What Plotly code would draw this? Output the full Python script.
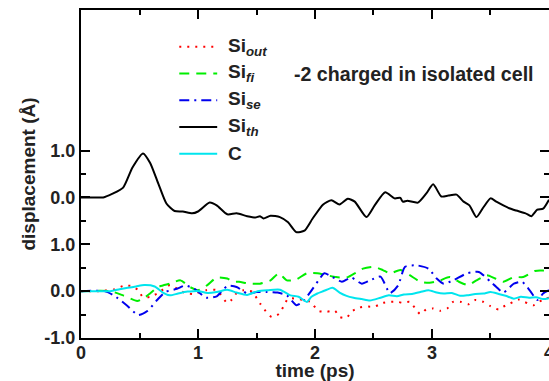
import plotly.graph_objects as go

# ---- data (displacement in Angstrom vs time in ps) ----
t_th = [0.0, 0.10, 0.19, 0.27, 0.36, 0.44, 0.53, 0.59, 0.66, 0.73, 0.80, 0.87, 0.95, 1.00, 1.10, 1.16,
        1.25, 1.33, 1.42, 1.49, 1.53, 1.56, 1.62, 1.70, 1.77, 1.84, 1.91, 1.98, 2.07, 2.14, 2.21, 2.28,
        2.34, 2.44, 2.51, 2.60, 2.68, 2.73, 2.75, 2.79, 2.88, 2.95, 3.01, 3.08, 3.14, 3.21, 3.27, 3.32,
        3.38, 3.44, 3.50, 3.55, 3.61, 3.66, 3.72, 3.80, 3.85, 3.90, 3.95, 4.00]
si_th = [0.0, 0.0, 0.0, 0.08, 0.21, 0.64, 0.94, 0.74, 0.30, -0.13, -0.29, -0.30, -0.34, -0.30, -0.11, -0.17,
         -0.36, -0.34, -0.40, -0.43, -0.40, -0.45, -0.39, -0.42, -0.53, -0.74, -0.71, -0.45, -0.15, -0.06, -0.15, -0.03,
         -0.09, -0.42, -0.17, 0.11, -0.02, -0.01, -0.09, -0.07, -0.11, 0.08, 0.28, 0.02, 0.04, 0.06, -0.09, -0.17,
         -0.42, -0.21, -0.02, -0.09, -0.17, -0.23, -0.28, -0.34, -0.40, -0.26, -0.24, -0.05]

t_out = [0.0, 0.15, 0.29, 0.36, 0.43, 0.49, 0.53, 0.59, 0.66, 0.76, 0.83, 0.89, 0.96, 1.07, 1.16, 1.25,
         1.29, 1.33, 1.39, 1.46, 1.53, 1.57, 1.63, 1.69, 1.73, 1.77, 1.84, 1.90, 1.96, 2.03, 2.10, 2.17,
         2.21, 2.27, 2.31, 2.38, 2.44, 2.51, 2.58, 2.64, 2.71, 2.75, 2.81, 2.90, 2.95, 3.01, 3.07, 3.13,
         3.18, 3.25, 3.31, 3.37, 3.44, 3.50, 3.57, 3.61, 3.67, 3.74, 3.79, 3.87, 3.94, 4.00]
si_out = [0.0, 0.0, 0.04, 0.11, 0.11, 0.02, -0.13, -0.12, -0.04, 0.13, 0.04, -0.04, -0.06, 0.02, 0.02, -0.25,
          -0.18, -0.04, 0.02, -0.01, -0.26, -0.40, -0.55, -0.49, -0.33, -0.16, -0.16, -0.19, -0.23, -0.42, -0.44, -0.42,
          -0.55, -0.57, -0.44, -0.35, -0.33, -0.33, -0.25, -0.23, -0.23, -0.25, -0.23, -0.49, -0.39, -0.37, -0.42, -0.37,
          -0.23, -0.23, -0.28, -0.19, -0.23, -0.32, -0.39, -0.33, -0.26, -0.18, -0.23, -0.30, -0.19, -0.14]

t_fi = [0.0, 0.25, 0.36, 0.48, 0.53, 0.59, 0.66, 0.76, 0.85, 0.93, 1.00, 1.08, 1.16, 1.25, 1.30, 1.35,
        1.44, 1.53, 1.62, 1.69, 1.76, 1.84, 1.93, 2.02, 2.10, 2.18, 2.27, 2.36, 2.41, 2.50, 2.58, 2.64,
        2.73, 2.81, 2.90, 2.98, 3.07, 3.15, 3.23, 3.31, 3.38, 3.47, 3.54, 3.61, 3.70, 3.78, 3.88, 3.95, 4.00]
si_fi = [0.0, 0.0, -0.09, -0.21, -0.16, -0.05, 0.09, 0.16, 0.23, 0.09, 0.02, 0.13, 0.29, 0.27, 0.20, 0.20,
         0.16, 0.16, 0.23, 0.38, 0.23, 0.25, 0.38, 0.38, 0.34, 0.30, 0.29, 0.41, 0.48, 0.52, 0.45, 0.38,
         0.45, 0.34, 0.20, 0.18, 0.23, 0.30, 0.20, 0.13, 0.23, 0.34, 0.27, 0.20, 0.30, 0.30, 0.43, 0.44, 0.41]

t_se = [0.0, 0.20, 0.28, 0.39, 0.49, 0.57, 0.65, 0.72, 0.82, 0.89, 0.97, 1.07, 1.16, 1.25, 1.33, 1.42,
        1.50, 1.59, 1.68, 1.76, 1.84, 1.89, 1.96, 2.03, 2.08, 2.15, 2.23, 2.31, 2.40, 2.47, 2.56, 2.64,
        2.71, 2.77, 2.87, 2.97, 3.04, 3.10, 3.18, 3.30, 3.40, 3.50, 3.55, 3.61, 3.70, 3.77, 3.84, 3.90,
        3.95, 4.00]
si_se = [0.0, 0.0, -0.09, -0.30, -0.51, -0.42, -0.19, -0.02, 0.05, 0.12, 0.05, -0.14, -0.11, 0.11, 0.09, -0.05,
         -0.02, -0.02, -0.03, -0.09, -0.30, -0.24, -0.02, 0.23, 0.38, 0.30, 0.20, 0.29, 0.16, 0.23, 0.31, -0.04,
         0.12, 0.52, 0.55, 0.48, 0.27, 0.16, 0.23, 0.38, 0.41, 0.20, 0.09, -0.03, 0.16, 0.20, 0.00, -0.19,
         -0.05, 0.02]

t_c = [0.0, 0.25, 0.33, 0.40, 0.47, 0.54, 0.63, 0.70, 0.76, 0.83, 0.91, 0.96, 1.01, 1.08, 1.16, 1.25,
       1.33, 1.42, 1.51, 1.60, 1.70, 1.79, 1.86, 1.93, 1.97, 2.02, 2.06, 2.10, 2.15, 2.21, 2.27, 2.33,
       2.40, 2.47, 2.56, 2.63, 2.70, 2.76, 2.83, 2.90, 2.97, 3.04, 3.10, 3.17, 3.24, 3.30, 3.37, 3.44,
       3.50, 3.57, 3.63, 3.70, 3.76, 3.83, 3.89, 3.95, 4.00]
c_val = [0.0, 0.0, 0.04, 0.07, 0.10, 0.13, 0.10, -0.03, -0.09, -0.05, -0.01, 0.0, 0.0, -0.04, -0.02, 0.03,
         -0.03, -0.08, 0.0, 0.02, 0.03, -0.09, -0.12, -0.23, -0.12, -0.05, -0.01, 0.03, 0.07, -0.03, -0.10, -0.14,
         -0.17, -0.20, -0.14, -0.09, -0.11, -0.07, -0.06, -0.02, 0.02, -0.03, -0.05, -0.04, -0.10, -0.09, -0.06, -0.05,
         -0.02, -0.06, -0.10, -0.16, -0.12, -0.14, -0.13, -0.17, -0.15]

th_offset = 2.0  # Si_th curve shifted up for clarity

x_major = [0, 1, 2, 3, 4]
x_labels = ["0", "1", "2", "3", "4"]
y_major = [-1, 0, 1, 2, 3]
y_labels = ["-1.0", "0.0", "1.0", "0.0", "1.0"]

names = ["Si<sub><i>out</i></sub>", "Si<sub><i>fi</i></sub>", "Si<sub><i>se</i></sub>",
         "Si<sub><i>th</i></sub>", "C"]
colors = ["#ff0000", "#00ee00", "#0000ee", "#000000", "#00e5ee"]
dashes = ["2px,6px", "10px,7px", "10px,5px,2px,5px", "solid", "solid"]

FONT = "Liberation Sans, Arial"

fig = go.Figure()
series = [(t_out, si_out), (t_fi, si_fi), (t_se, si_se),
          (t_th, [v + th_offset for v in si_th]), (t_c, c_val)]
for (tx, ty), col, ds in zip(series, colors, dashes):
    fig.add_trace(go.Scatter(x=tx, y=ty, mode="lines",
                             line=dict(color=col, width=2, dash=ds, shape="spline", smoothing=0.6),
                             showlegend=False, cliponaxis=True))

# legend drawn manually
leg_y0 = 0.888
leg_dy = 0.0815
for i, (nm, col, ds) in enumerate(zip(names, colors, dashes)):
    yy = leg_y0 - i * leg_dy
    fig.add_shape(type="line", xref="paper", yref="paper", x0=0.21, x1=0.291, y0=yy, y1=yy,
                  line=dict(color=col, width=2, dash=ds))
    fig.add_annotation(xref="paper", yref="paper", x=0.31, y=yy, text=nm, showarrow=False,
                       xanchor="left", yanchor="middle", font=dict(size=19, color="#222", family=FONT))

fig.add_annotation(xref="paper", yref="paper", x=0.451, y=0.806, text="-2 charged in isolated cell",
                   showarrow=False, xanchor="left", yanchor="middle",
                   font=dict(size=19.6, color="#222", family=FONT))

axis_common = dict(showline=True, linecolor="black", linewidth=2, mirror="ticks", ticks="inside",
                   tickcolor="black", tickwidth=2, ticklen=9, showgrid=False, zeroline=False,
                   automargin=False, ticklabeloverflow="allow",
                   tickfont=dict(size=18, color="#222", family=FONT))

fig.update_layout(
    width=549, height=381, margin=dict(l=81, r=0, t=10, b=43),
    paper_bgcolor="white", plot_bgcolor="white",
    font=dict(family=FONT, color="#222", size=18, weight="bold"),
    xaxis=dict(range=[0, 4.0001], tickvals=x_major, ticktext=x_labels, ticklabelstandoff=-3,
               title=dict(text="time (ps)", font=dict(size=19), standoff=12),
               minor=dict(tickvals=[0.5, 1.5, 2.5, 3.5], ticklen=5, tickwidth=2, tickcolor="black", ticks="inside"),
               **axis_common),
    yaxis=dict(range=[-1, 6], tickvals=y_major, ticktext=y_labels,
               title=dict(text="displacement (Å)", font=dict(size=19), standoff=4),
               minor=dict(tickvals=[-0.5, 0.5, 1.5, 2.5], ticklen=5, tickwidth=2, tickcolor="black", ticks="inside"),
               **axis_common),
)

fig.write_html("out.html")
